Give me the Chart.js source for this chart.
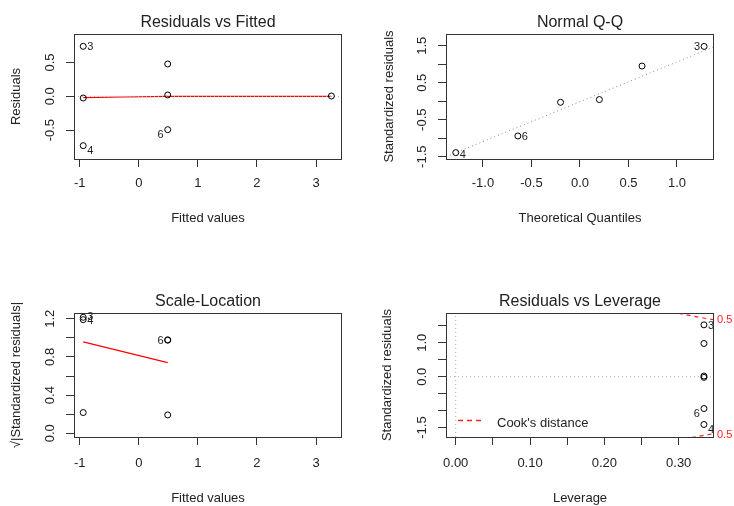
<!DOCTYPE html>
<html>
<head>
<meta charset="utf-8">
<script src="https://cdn.jsdelivr.net/npm/chart.js@4.4.0/dist/chart.umd.min.js"></script>
<style>
  html, body { margin: 0; padding: 0; background: #fff; }
  #wrap { position: relative; width: 734px; height: 506px; }
  .cell { position: absolute; width: 367px; height: 253px; }
  canvas { display: block; }
</style>
</head>
<body>
<div id="wrap">
  <div class="cell" style="left:0;top:0"><canvas id="c1" width="367" height="253"></canvas></div>
  <div class="cell" style="left:367px;top:0"><canvas id="c2" width="367" height="253"></canvas></div>
  <div class="cell" style="left:0;top:253px"><canvas id="c3" width="367" height="253"></canvas></div>
  <div class="cell" style="left:367px;top:253px"><canvas id="c4" width="367" height="253"></canvas></div>
</div>
<script>
// --- Residuals vs Fitted
const fitted = [-0.94, -0.94, -0.94, 0.49, 0.49, 0.49, 3.26];
const residuals = [0.739, -0.025, -0.729, 0.478, 0.02, -0.493, 0.005];
const fitSmoothX = [-0.94, -0.25, 0.49, 3.26];
const fitSmoothY = [-0.02, -0.01, 0.0, 0.0];
const fitTicks = [-1, 0, 1, 2, 3];
const fitTickLabels = ['-1', '0', '1', '2', '3'];
const resTicks = [-0.5, 0, 0.5];
const resTickLabels = ['-0.5', '0.0', '0.5'];

// --- Normal Q-Q
const theoQ = [-1.28, -0.64, -0.2, 0.2, 0.64, 1.28];
const stdResSorted = [-1.39, -0.94, -0.03, 0.045, 0.95, 1.48];
const qqLineX = [-1.38, 1.38];
const qqLineY = [-1.50, 1.47];
const qqXTicks = [-1, -0.5, 0, 0.5, 1];
const qqXTickLabels = ['-1.0', '-0.5', '0.0', '0.5', '1.0'];
const qqYTicks = [-1.5, -1, -0.5, 0, 0.5, 1, 1.5];
const qqYTickLabels = ['-1.5', '', '-0.5', '', '0.5', '', '1.5'];

// --- Scale-Location
const slFitted = [-0.94, -0.94, -0.94, 0.49, 0.49, 0.49];
const slRootRes = [1.215, 1.19, 0.217, 0.979, 0.975, 0.192];
const slSmoothX = [-0.94, 0.49];
const slSmoothY = [0.958, 0.741];
const slYTicks = [0, 0.2, 0.4, 0.6, 0.8, 1.0, 1.2];
const slYTickLabels = ['0.0', '', '0.4', '', '0.8', '', '1.2'];

// --- Residuals vs Leverage
const leverage = [0.334, 0.334, 0.334, 0.334, 0.334, 0.334];
const levStdRes = [1.53, 0.98, 0.02, -0.02, -0.94, -1.41];
const cookTopX = [0.30, 0.31, 0.32, 0.33, 0.34, 0.347];
const cookTopY = [1.871, 1.827, 1.785, 1.745, 1.706, 1.68];
const cookBotX = [0.3175, 0.325, 0.335, 0.347];
const cookBotY = [-1.796, -1.765, -1.726, -1.68];
const cookLabelY = [1.68, -1.72];
const levXTicks = [0, 0.05, 0.10, 0.15, 0.20, 0.25, 0.30];
const levXTickLabels = ['0.00', '', '0.10', '', '0.20', '', '0.30'];
const levYTicks = [-1.5, -1, -0.5, 0, 0.5, 1, 1.5];
const levYTickLabels = ['-1.5', '', '', '0.0', '', '1.0', ''];

const FONT = '"Liberation Sans", Arial, sans-serif';
const INK = '#222';
const AXIS = '#333';
Chart.defaults.font.family = FONT;
Chart.defaults.color = INK;

const pts = (xs, ys) => xs.map((x, i) => ({ x, y: ys[i] }));

function fixedTicks(values) {
  return scale => { scale.ticks = values.map(v => ({ value: v })); };
}

function xAxis(min, max, ticks, labels, title, h, tickPad, titlePad) {
  return {
    type: 'linear', position: 'bottom', min, max,
    afterBuildTicks: fixedTicks(ticks),
    afterFit: s => { s.height = h; },
    border: { display: false },
    grid: { drawOnChartArea: false, tickLength: 8, color: AXIS },
    ticks: { autoSkip: false, maxRotation: 0, padding: tickPad, font: { size: 13 }, color: INK,
      callback: (v, i) => labels[i] },
    title: { display: true, text: title, font: { size: 13 }, color: INK, padding: { top: 0, bottom: titlePad } }
  };
}

function yAxis(min, max, ticks, title, w, titlePad) {
  return {
    type: 'linear', position: 'left', min, max,
    afterBuildTicks: fixedTicks(ticks),
    afterFit: s => { s.width = w; },
    border: { display: false },
    grid: { drawOnChartArea: false, tickLength: 8, color: AXIS },
    ticks: { display: false },
    title: { display: true, text: title, font: { size: 13 }, color: INK, padding: { top: titlePad, bottom: 0 } }
  };
}

const pointSet = data => ({
  type: 'scatter', data, pointStyle: 'circle', pointRadius: 3, pointBorderWidth: 1,
  pointBorderColor: '#000', pointBackgroundColor: 'rgba(0,0,0,0)', showLine: false
});
const lineSet = (data, color, dash, width) => ({
  type: 'line', data, borderColor: color, borderWidth: width || 1, borderDash: dash || [],
  pointRadius: 0, fill: false, tension: 0
});

// panel decorations drawn by R: box, caption, y tick labels, id labels
const decor = {
  c1: { title: 'Residuals vs Fitted', yTicks: resTicks, yLabels: resTickLabels,
    pointLabels: [{ ds: 0, i: 0, text: '3', side: 'right', dy: 1 },
                  { ds: 0, i: 2, text: '4', side: 'right', dy: 5 },
                  { ds: 0, i: 5, text: '6', side: 'left', dy: 5 }] },
  c2: { title: 'Normal Q-Q', yTicks: qqYTicks, yLabels: qqYTickLabels,
    pointLabels: [{ ds: 0, i: 0, text: '4', side: 'right', dy: 2 },
                  { ds: 0, i: 1, text: '6', side: 'right', dy: 1 },
                  { ds: 0, i: 5, text: '3', side: 'left', dy: 1 }] },
  c3: { title: 'Scale-Location', yTicks: slYTicks, yLabels: slYTickLabels,
    pointLabels: [{ ds: 0, i: 0, text: '3', side: 'right', dy: 0 },
                  { ds: 0, i: 1, text: '4', side: 'right', dy: 1 },
                  { ds: 0, i: 3, text: '6', side: 'left', dy: 1 }] },
  c4: { title: 'Residuals vs Leverage', yTicks: levYTicks, yLabels: levYTickLabels,
    pointLabels: [{ ds: 0, i: 0, text: '3', side: 'right', dy: 1 },
                  { ds: 0, i: 4, text: '6', side: 'left', dy: 5 },
                  { ds: 0, i: 5, text: '4', side: 'right', dy: 5 }],
    sideLabels: cookLabelY.map(v => ({ y: v, text: '0.5' })),
    legend: 'Cook\'s distance' }
};

const rPanel = {
  id: 'rPanel',
  afterDraw(chart) {
    const o = decor[chart.canvas.id];
    const { ctx, chartArea: a } = chart;
    const y = chart.scales.y;
    ctx.save();
    ctx.strokeStyle = AXIS;
    ctx.lineWidth = 1;
    ctx.strokeRect(a.left + 0.5, a.top + 0.5, a.right - a.left - 1, a.bottom - a.top);

    ctx.fillStyle = INK;
    ctx.font = '16px ' + FONT;
    ctx.textAlign = 'center';
    ctx.textBaseline = 'alphabetic';
    ctx.fillText(o.title, (a.left + a.right) / 2, a.top - 7);

    ctx.font = '13px ' + FONT;
    o.yTicks.forEach((v, i) => {
      if (!o.yLabels[i]) return;
      ctx.save();
      ctx.translate(a.left - 24, y.getPixelForValue(v));
      ctx.rotate(-Math.PI / 2);
      ctx.textAlign = 'center';
      ctx.textBaseline = 'middle';
      ctx.fillText(o.yLabels[i], 0, 0);
      ctx.restore();
    });

    ctx.font = '11px ' + FONT;
    ctx.textBaseline = 'middle';
    o.pointLabels.forEach(l => {
      const el = chart.getDatasetMeta(l.ds).data[l.i];
      const left = l.side === 'left';
      ctx.textAlign = left ? 'right' : 'left';
      ctx.fillText(l.text, el.x + (left ? -4 : 4), el.y + l.dy);
    });

    if (o.sideLabels) {
      ctx.fillStyle = '#ff2020';
      ctx.textAlign = 'left';
      o.sideLabels.forEach(s => ctx.fillText(s.text, a.right + 3, y.getPixelForValue(s.y)));
    }
    if (o.legend) {
      const ly = a.bottom - 16.5;
      ctx.strokeStyle = '#ff2020';
      ctx.lineWidth = 1.3;
      ctx.setLineDash([5, 4]);
      ctx.beginPath();
      ctx.moveTo(a.left + 12, ly);
      ctx.lineTo(a.left + 35, ly);
      ctx.stroke();
      ctx.setLineDash([]);
      ctx.fillStyle = INK;
      ctx.font = '13px ' + FONT;
      ctx.textAlign = 'left';
      ctx.fillText(o.legend, a.left + 51, a.bottom - 14);
    }
    ctx.restore();
  }
};

function makePanel(id, datasets, scales, pad) {
  new Chart(document.getElementById(id), {
    data: { datasets },
    options: {
      responsive: false, animation: false, events: [],
      layout: { padding: { left: 0, bottom: 0, top: pad.top, right: pad.right } },
      plugins: { legend: { display: false }, tooltip: { enabled: false } },
      scales
    },
    plugins: [rPanel]
  });
}

const fitMin = -1.096, fitMax = 3.44;

makePanel('c1', [
  pointSet(pts(fitted, residuals)),
  lineSet(pts([fitMin, fitMax], [0, 0]), '#aaaaaa', [1, 3]),
  lineSet(pts(fitSmoothX, fitSmoothY), '#ff0000', [], 1.2)
], {
  x: xAxis(fitMin, fitMax, fitTicks, fitTickLabels, 'Fitted values', 94, 9, 27),
  y: yAxis(-0.926, 0.921, resTicks, 'Residuals', 74, 9)
}, { top: 34, right: 25 });

makePanel('c2', [
  pointSet(pts(theoQ, stdResSorted)),
  lineSet(pts(qqLineX, qqLineY), '#888888', [1, 3])
], {
  x: xAxis(-1.381, 1.382, qqXTicks, qqXTickLabels, 'Theoretical Quantiles', 94, 9, 27),
  y: yAxis(-1.562, 1.816, qqYTicks, 'Standardized residuals', 79, 14.5)
}, { top: 34, right: 20 });

makePanel('c3', [
  pointSet(pts(slFitted, slRootRes)),
  lineSet(pts(slSmoothX, slSmoothY), '#ff0000', [], 1.2)
], {
  x: xAxis(fitMin, fitMax, fitTicks, fitTickLabels, 'Fitted values', 69, 10.5, 0),
  y: yAxis(-0.039, 1.26, slYTicks, '\u221A|Standardized residuals|', 74, 9)
}, { top: 60, right: 25 });

const levMin = -0.01305, levMax = 0.3475, levYMin = -1.779, levYMax = 1.879;
makePanel('c4', [
  pointSet(pts(leverage, levStdRes)),
  lineSet(pts([levMin, levMax], [0, 0]), '#aaaaaa', [1, 3]),
  lineSet(pts([0, 0], [levYMin, levYMax]), '#aaaaaa', [1, 3]),
  lineSet(pts(cookTopX, cookTopY), '#ff2020', [4, 4], 1.2),
  lineSet(pts(cookBotX, cookBotY), '#ff2020', [4, 4], 1.2)
], {
  x: xAxis(levMin, levMax, levXTicks, levXTickLabels, 'Leverage', 69, 10.5, 0),
  y: yAxis(levYMin, levYMax, levYTicks, 'Standardized residuals', 79, 13)
}, { top: 60, right: 20 });
</script>
</body>
</html>
